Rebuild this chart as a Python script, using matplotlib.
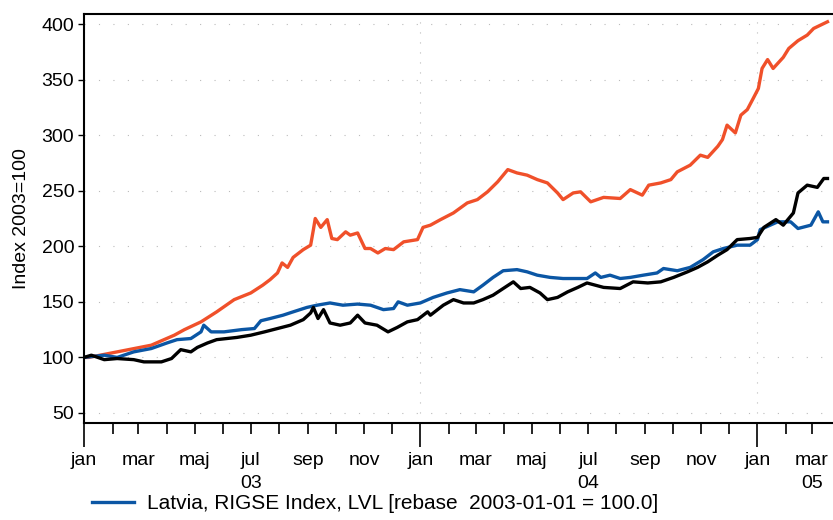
import matplotlib
matplotlib.use('Agg')
import matplotlib.pyplot as plt
import matplotlib.dates as mdates
import matplotlib.transforms as mtransforms
import numpy as np
import pandas as pd

plt.rcParams['font.family'] = ['Liberation Sans', 'DejaVu Sans']

# days since 2003-01-01, index values (rebased 2003-01-01 = 100)
red_days = [0, 5, 36, 73, 98, 109, 127, 144, 163, 181, 194, 202, 210, 215, 221, 227,
            238, 246, 249, 251, 257, 264, 269, 275, 284, 289, 297, 305, 311, 319, 327,
            336, 347, 362, 368, 376, 387, 401, 416, 427, 438, 449, 460, 470, 481, 492,
            503, 514, 520, 531, 539, 550, 564, 582, 593, 606, 613, 626, 637, 644, 658,
            669, 677, 688, 693, 698, 707, 713, 720, 727, 732, 736, 742, 748, 759, 765,
            775, 785, 792, 807]
red_vals = [100, 100, 105, 111, 120, 125, 132, 141, 152, 158, 165, 170, 176, 185, 181, 190,
            197, 201, 215, 225, 217, 224, 207, 206, 213, 210, 212, 198, 198, 194, 198,
            197, 204, 206, 217, 219, 224, 230, 239, 242, 249, 258, 269, 266, 264, 260,
            257, 248, 242, 248, 249, 240, 244, 243, 251, 246, 255, 257, 260, 267, 273,
            282, 280, 290, 296, 309, 302, 318, 323, 334, 342, 360, 368, 360, 370, 378,
            385, 390, 396, 402]

blue_days = [0, 22, 36, 54, 73, 90, 101, 116, 127, 130, 138, 152, 171, 185, 192, 202,
             216, 227, 242, 253, 267, 281, 297, 311, 325, 336, 341, 351, 365, 379, 394,
             408, 423, 433, 444, 455, 470, 481, 492, 506, 520, 536, 546, 555, 561, 571,
             582, 593, 607, 622, 629, 644, 658, 672, 683, 694, 709, 723, 731, 734, 753,
             767, 775, 789, 797, 802, 807]
blue_vals = [100, 102, 100, 105, 108, 113, 116, 117, 123, 129, 123, 123, 125, 126, 133, 135,
             138, 141, 145, 147, 149, 147, 148, 147, 143, 144, 150, 147, 149, 154, 158,
             161, 159, 165, 172, 178, 179, 177, 174, 172, 171, 171, 171, 176, 172, 174,
             171, 172, 174, 176, 180, 178, 181, 188, 195, 198, 201, 201, 206, 215, 222,
             222, 216, 219, 231, 222, 222]

black_days = [0, 8, 22, 36, 54, 65, 84, 95, 105, 116, 123, 134, 144, 155, 166, 181, 196,
              210, 224, 238, 246, 249, 254, 260, 267, 278, 289, 297, 305, 318, 330, 340,
              351, 362, 373, 376, 390, 401, 412, 423, 433, 444, 455, 466, 474, 484, 495,
              503, 514, 525, 536, 546, 564, 582, 596, 612, 626, 640, 655, 666, 677, 688,
              698, 709, 723, 731, 738, 751, 759, 770, 775, 785, 796, 803, 807]
black_vals = [100, 102, 98, 99, 98, 96, 96, 99, 107, 105, 109, 113, 116, 117, 118, 120, 123,
              126, 129, 134, 140, 145, 135, 143, 131, 129, 131, 138, 131, 129, 123, 127,
              132, 134, 141, 138, 147, 152, 149, 149, 152, 156, 162, 168, 162, 163, 158,
              152, 154, 159, 163, 167, 163, 162, 168, 167, 168, 172, 177, 181, 186, 192,
              197, 206, 207, 208, 217, 224, 219, 230, 248, 255, 253, 261, 261]

month_labels = ['jan', 'mar', 'maj', 'jul', 'sep', 'nov']
year_labels = ['03', '04', '05']
legend_label = 'Latvia, RIGSE Index, LVL [rebase  2003-01-01 = 100.0]'

start = pd.Timestamp('2003-01-01')
end = pd.Timestamp('2005-03-24')
def to_dates(days):
    return start + pd.to_timedelta(days, unit='D')

fig = plt.figure(figsize=(8.33, 5.2), dpi=100)
ax = fig.add_axes([84/833, 97/520, 749/833, 409/520])

ax.plot(to_dates(red_days), red_vals, color='#f0502a', lw=2.4)
blue_line, = ax.plot(to_dates(blue_days), blue_vals, color='#0b56a4', lw=2.4)
ax.plot(to_dates(black_days), black_vals, color='black', lw=2.4)

ax.set_xlim(start, end)
ax.set_ylim(41, 409)
ax.set_yticks(np.arange(50, 401, 50))
ax.tick_params(axis='y', labelsize=14, length=4, width=1, pad=3)
ax.set_ylabel('Index 2003=100', fontsize=14, labelpad=8)

ax.xaxis.set_major_locator(mdates.YearLocator())
ax.xaxis.set_minor_locator(mdates.MonthLocator())
ax.xaxis.set_major_formatter(plt.NullFormatter())
ax.tick_params(axis='x', which='major', length=17, width=1.2)
ax.tick_params(axis='x', which='minor', length=8, width=1.2)

ax.grid(axis='y', color='#bbbbbb', lw=0.8, linestyle=(0, (1, 12)))
ax.grid(axis='x', which='major', color='#bbbbbb', lw=0.8, linestyle=(0, (1, 8)))

for s in ['left', 'bottom', 'top']:
    ax.spines[s].set_linewidth(1.5)
ax.spines['right'].set_visible(False)

# month and year labels under the axis
trans = mtransforms.blended_transform_factory(ax.transData, ax.transAxes)
for year in [2003, 2004, 2005]:
    for i, lab in enumerate(month_labels):
        d = pd.Timestamp(year=year, month=1 + 2 * i, day=1)
        if d > end:
            continue
        ax.text(d, -0.092, lab, transform=trans, ha='center', va='center', fontsize=14)
year_pos = [pd.Timestamp('2003-07-01'), pd.Timestamp('2004-07-01'), pd.Timestamp('2005-03-01')]
for d, lab in zip(year_pos, year_labels):
    ax.text(d, -0.149, lab, transform=trans, ha='center', va='center', fontsize=14)

fig.legend([blue_line], [legend_label], loc='upper left', bbox_to_anchor=(92/833, 1 - 494/520),
           frameon=False, fontsize=15, handlelength=2.0, handletextpad=0.65,
           borderaxespad=0, borderpad=0)

fig.savefig('out.png', dpi=100)
